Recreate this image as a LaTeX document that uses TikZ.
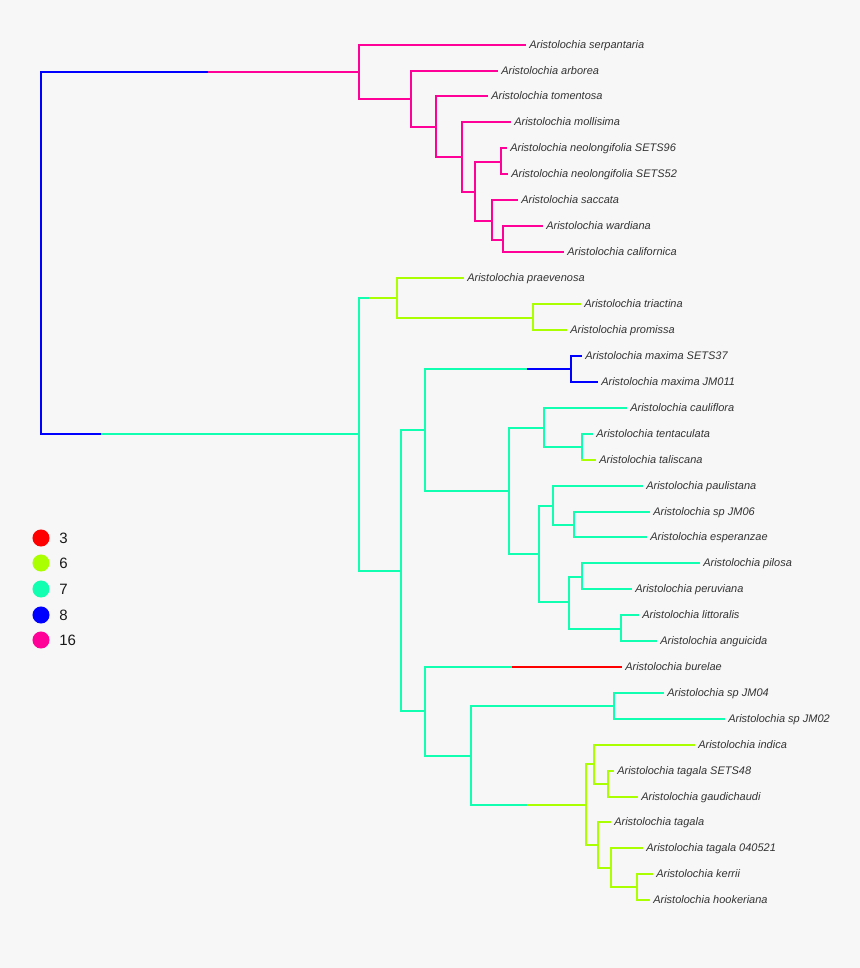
\documentclass[tikz,border=0pt]{standalone}
\usepackage{fontspec}
\newfontfamily\treefont{Liberation Sans}
\usetikzlibrary{positioning}
\definecolor{bg}{HTML}{F7F7F7}
\definecolor{cthree}{HTML}{FF0000}
\definecolor{csix}{HTML}{AAFF00}
\definecolor{cseven}{HTML}{11FFB0}
\definecolor{ceight}{HTML}{0000FF}
\definecolor{csixteen}{HTML}{FF0099}
\definecolor{txt}{HTML}{333333}
\tikzset{x=0.75pt, y=-0.75pt,
  br/.style={line width=1pt, line cap=rect},
  tip/.style={anchor=west, inner xsep=3pt, inner ysep=0pt, text=txt,
    text height=5pt, text depth=0pt,
    font=\treefont\itshape\fontsize{8.25}{9}\selectfont},
  dot/.style={circle, minimum size=12.8pt, inner sep=0pt},
  legtext/.style={inner sep=0pt, text=black!90,
    font=\treefont\fontsize{11.25}{12}\selectfont}}

\begin{document}
\begin{tikzpicture}
  \fill[bg] (0,0) rectangle (860,968);
  \useasboundingbox (0,0) rectangle (860,968);

  % tips
  \node[tip] (serp) at (525,45) {Aristolochia serpantaria};
  \node[tip] (arbo) at (497,71) {Aristolochia arborea};
  \node[tip] (tome) at (487,96) {Aristolochia tomentosa};
  \node[tip] (moll) at (510,122) {Aristolochia mollisima};
  \node[tip] (neoa) at (506,148) {Aristolochia neolongifolia SETS96};
  \node[tip] (neob) at (507,174) {Aristolochia neolongifolia SETS52};
  \node[tip] (sacc) at (517,200) {Aristolochia saccata};
  \node[tip] (ward) at (542,226) {Aristolochia wardiana};
  \node[tip] (cali) at (563,252) {Aristolochia californica};
  \node[tip] (prae) at (463,278) {Aristolochia praevenosa};
  \node[tip] (tria) at (580,304) {Aristolochia triactina};
  \node[tip] (prom) at (566,330) {Aristolochia promissa};
  \node[tip] (maxa) at (581,356) {Aristolochia maxima SETS37};
  \node[tip] (maxb) at (597,382) {Aristolochia maxima JM011};
  \node[tip] (caul) at (626,408) {Aristolochia cauliflora};
  \node[tip] (tent) at (592,434) {Aristolochia tentaculata};
  \node[tip] (tali) at (595,460) {Aristolochia taliscana};
  \node[tip] (paul) at (642,486) {Aristolochia paulistana};
  \node[tip] (jmsix) at (649,512) {Aristolochia sp JM06};
  \node[tip] (espe) at (646,537) {Aristolochia esperanzae};
  \node[tip] (pilo) at (699,563) {Aristolochia pilosa};
  \node[tip] (peru) at (631,589) {Aristolochia peruviana};
  \node[tip] (litt) at (638,615) {Aristolochia littoralis};
  \node[tip] (angu) at (656,641) {Aristolochia anguicida};
  \node[tip] (bure) at (621,667) {Aristolochia burelae};
  \node[tip] (jmfour) at (663,693) {Aristolochia sp JM04};
  \node[tip] (jmtwo) at (724,719) {Aristolochia sp JM02};
  \node[tip] (indi) at (694,745) {Aristolochia indica};
  \node[tip] (taga) at (613,771) {Aristolochia tagala SETS48};
  \node[tip] (gaud) at (637,797) {Aristolochia gaudichaudi};
  \node[tip] (tagb) at (610,822) {Aristolochia tagala};
  \node[tip] (tagc) at (642,848) {Aristolochia tagala 040521};
  \node[tip] (kerr) at (652,874) {Aristolochia kerrii};
  \node[tip] (hook) at (649,900) {Aristolochia hookeriana};

  % internal nodes
  \coordinate (root) at (41,253);
  \coordinate (pa) at (359,72);
  \coordinate (pb) at (411,99);
  \coordinate (pc) at (436,127);
  \coordinate (pd) at (462,157);
  \coordinate (pe) at (475,192);
  \coordinate (pf) at (501,162);
  \coordinate (pg) at (492,221);
  \coordinate (ph) at (503,240);
  \coordinate (ca) at (359,434);
  \coordinate (ga) at (397,298);
  \coordinate (gb) at (533,318);
  \coordinate (cb) at (401,571);
  \coordinate (cc) at (425,430);
  \coordinate (ba) at (571,369);
  \coordinate (cd) at (509,491);
  \coordinate (ce) at (544,428);
  \coordinate (cf) at (582,447);
  \coordinate (cg) at (539,554);
  \coordinate (ch) at (553,506);
  \coordinate (ci) at (574,525);
  \coordinate (cj) at (569,602);
  \coordinate (cl) at (582,577);
  \coordinate (cm) at (621,629);
  \coordinate (ck) at (425,711);
  \coordinate (cn) at (471,756);
  \coordinate (co) at (614,706);
  \coordinate (gc) at (586,805);
  \coordinate (gd) at (594,764);
  \coordinate (ge) at (608,784);
  \coordinate (gf) at (598,845);
  \coordinate (gg) at (611,868);
  \coordinate (gh) at (637,887);
  % colour breaks
  \coordinate (sa) at (209,72);
  \coordinate (sb) at (102,434);
  \coordinate (sc) at (370,298);
  \coordinate (sd) at (528,369);
  \coordinate (se) at (513,667);
  \coordinate (sf) at (528,805);

  % root
  \draw[br, ceight] (root) |- (sa);
  \draw[br, csixteen] (sa) -- (pa);
  \draw[br, ceight] (root) |- (sb);
  \draw[br, cseven] (sb) -- (ca);

  % 16 clade
  \begin{scope}[br, csixteen]
    \draw (pa) |- (serp.west);
    \draw (pa) |- (pb);
    \draw (pb) |- (arbo.west);
    \draw (pb) |- (pc);
    \draw (pc) |- (tome.west);
    \draw (pc) |- (pd);
    \draw (pd) |- (moll.west);
    \draw (pd) |- (pe);
    \draw (pe) |- (pf);
    \draw (pe) |- (pg);
    \draw (pf) |- (neoa.west);
    \draw (pf) |- (neob.west);
    \draw (pg) |- (sacc.west);
    \draw (pg) |- (ph);
    \draw (ph) |- (ward.west);
    \draw (ph) |- (cali.west);
  \end{scope}

  % 7 clade
  \begin{scope}[br, cseven]
    \draw (ca) |- (sc);
    \draw (ca) |- (cb);
    \draw (cb) |- (cc);
    \draw (cb) |- (ck);
    \draw (cc) |- (sd);
    \draw (cc) |- (cd);
    \draw (cd) |- (ce);
    \draw (cd) |- (cg);
    \draw (ce) |- (caul.west);
    \draw (ce) |- (cf);
    \draw (cf) |- (tent.west);
    \draw (cf) -- ++(0,13);
    \draw (cg) |- (ch);
    \draw (cg) |- (cj);
    \draw (ch) |- (paul.west);
    \draw (ch) |- (ci);
    \draw (ci) |- (jmsix.west);
    \draw (ci) |- (espe.west);
    \draw (cj) |- (cl);
    \draw (cj) |- (cm);
    \draw (cl) |- (pilo.west);
    \draw (cl) |- (peru.west);
    \draw (cm) |- (litt.west);
    \draw (cm) |- (angu.west);
    \draw (ck) |- (se);
    \draw (ck) |- (cn);
    \draw (cn) |- (co);
    \draw (cn) |- (sf);
    \draw (co) |- (jmfour.west);
    \draw (co) |- (jmtwo.west);
  \end{scope}
  \draw[br, ceight] (sd) -- (ba);
  \draw[br, ceight] (ba) |- (maxa.west);
  \draw[br, ceight] (ba) |- (maxb.west);
  \draw[br, cthree] (se) -- (bure.west);
  \draw[br, csix] (cf |- tali.west) -- (tali.west);

  % 6 clades
  \begin{scope}[br, csix]
    \draw (sc) -- (ga);
    \draw (ga) |- (prae.west);
    \draw (ga) |- (gb);
    \draw (gb) |- (tria.west);
    \draw (gb) |- (prom.west);
    \draw (sf) -- (gc);
    \draw (gc) |- (gd);
    \draw (gc) |- (gf);
    \draw (gd) |- (indi.west);
    \draw (gd) |- (ge);
    \draw (ge) |- (taga.west);
    \draw (ge) |- (gaud.west);
    \draw (gf) |- (tagb.west);
    \draw (gf) |- (gg);
    \draw (gg) |- (tagc.west);
    \draw (gg) |- (gh);
    \draw (gh) |- (kerr.west);
    \draw (gh) |- (hook.west);
  \end{scope}

  % legend
  \node[dot, fill=cthree] (dthree) at (41,538) {};
  \node[dot, fill=csix] (dsix) at (41,563) {};
  \node[dot, fill=cseven] (dseven) at (41,589) {};
  \node[dot, fill=ceight] (deight) at (41,615) {};
  \node[dot, fill=csixteen] (dsixteen) at (41,640) {};
  \node[legtext, right=7pt of dthree] (lthree) {3};
  \node[legtext, right=7pt of dsix] (lsix) {6};
  \node[legtext, right=7pt of dseven] (lseven) {7};
  \node[legtext, right=7pt of deight] (leight) {8};
  \node[legtext, right=7pt of dsixteen] (lsixteen) {16};
\end{tikzpicture}
\end{document}
